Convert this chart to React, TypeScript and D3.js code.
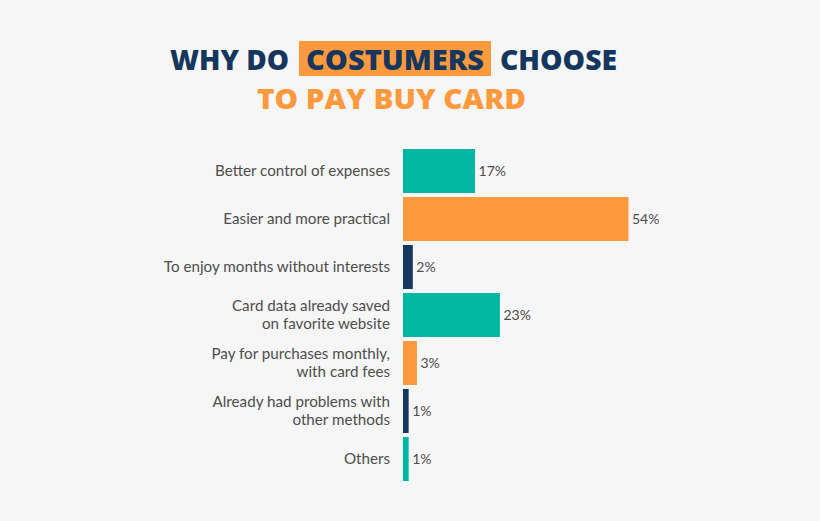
import { useEffect } from 'react';
import * as d3 from 'd3';

const categories = [
	['Better control of expenses'],
	['Easier and more practical'],
	['To enjoy months without interests'],
	['Card data already saved', 'on favorite website'],
	['Pay for purchases monthly,', 'with card fees'],
	['Already had problems with', 'other methods'],
	['Others'],
];
const values = [17, 54, 2, 23, 3, 1, 1];
const valueLabels = ['17%', '54%', '2%', '23%', '3%', '1%', '1%'];

const TEAL = '#00b8a1';
const ORANGE = '#fe9a3d';
const NAVY = '#16375d';
const barColors = [TEAL, ORANGE, NAVY, TEAL, ORANGE, NAVY, TEAL];

const width = 820;
const height = 521;

export default function App() {
	useEffect(() => {
		document.body.style.margin = '0';
	}, []);

	const keys = categories.map((c) => c.join(' '));

	const y = d3
		.scaleBand()
		.domain(keys)
		.range([147, 483])
		.paddingInner(0.0833)
		.paddingOuter(0.0417);

	const x = d3.scaleLinear().domain([0, 54]).range([403, 627]);

	const labelFont = 'Lato, "Open Sans", sans-serif';
	const titleFont = '"Open Sans", "DejaVu Sans", sans-serif';

	return (
		<svg width={width} height={height} style={{ display: 'block', background: '#f6f6f6' }}>
			{/* title */}
			<rect x={299} y={41} width={192} height={35} fill={ORANGE} />
			<g fontFamily={titleFont} fontWeight={800} fontSize={28}>
				<text x={170} y={69.5} fill={NAVY} textLength={119} lengthAdjust="spacingAndGlyphs">
					WHY DO
				</text>
				<text x={306} y={69.5} fill={NAVY} textLength={178} lengthAdjust="spacingAndGlyphs">
					COSTUMERS
				</text>
				<text x={500} y={69.5} fill={NAVY} textLength={117} lengthAdjust="spacingAndGlyphs">
					CHOOSE
				</text>
				<text x={257} y={109} fill={ORANGE} textLength={269} lengthAdjust="spacingAndGlyphs">
					TO PAY BUY CARD
				</text>
			</g>

			{/* bars */}
			{keys.map((k, i) => {
				const y0 = y(k) || 0;
				const cy = y0 + y.bandwidth() / 2;
				const lines = categories[i];
				const lh = 18;
				return (
					<g key={k}>
						<rect
							x={x(0)}
							y={y0}
							width={x(values[i]) - x(0) + 1.5}
							height={y.bandwidth()}
							fill={barColors[i]}
						/>
						<text
							x={x(values[i]) + 5}
							y={cy}
							dy="0.35em"
							fontFamily={labelFont}
							fontSize={14}
							fill="#4d4d4d"
						>
							{valueLabels[i]}
						</text>
						<text
							fontFamily={labelFont}
							fontSize={15.2}
							fill="#4d4d4d"
							textAnchor="end"
						>
							{lines.map((line, j) => (
								<tspan
									key={j}
									x={390}
									y={cy + (j - (lines.length - 1) / 2) * lh}
									dy="0.35em"
								>
									{line}
								</tspan>
							))}
						</text>
					</g>
				);
			})}
		</svg>
	);
}
